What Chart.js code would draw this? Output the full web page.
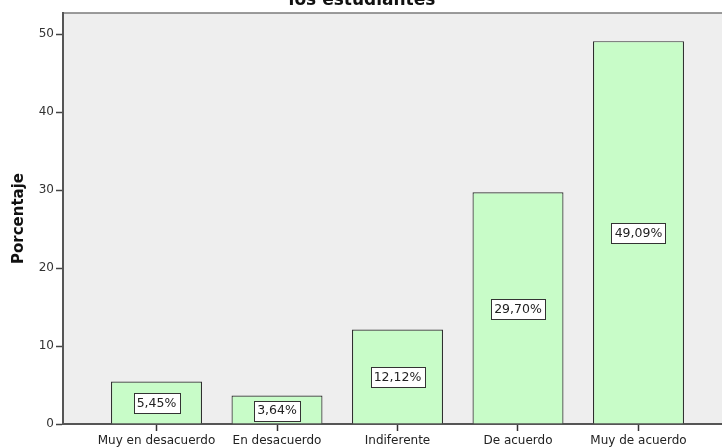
<!DOCTYPE html>
<html>
<head>
<meta charset="utf-8">
<script src="https://cdn.jsdelivr.net/npm/chart.js@4/dist/chart.umd.min.js"></script>
<style>
html,body{margin:0;padding:0;background:#fff;overflow:hidden;}
#wrap{position:relative;width:722px;height:448px;}
</style>
</head>
<body>
<div id="wrap"><canvas id="c" width="722" height="448"></canvas></div>
<script>
const categories = ["Muy en desacuerdo", "En desacuerdo", "Indiferente", "De acuerdo", "Muy de acuerdo"];
const percentages = [5.45, 3.64, 12.12, 29.70, 49.09];
const yTicks = [0, 10, 20, 30, 40, 50];
const titleLine = "los estudiantes";
const yTitle = "Porcentaje";

const FONT = "'DejaVu Sans', sans-serif";

const points = percentages.map((v, i) => ({x: i, y: v}));

const bgPlugin = {
  id: 'bgPlugin',
  beforeDraw(chart) {
    const {ctx, chartArea: a} = chart;
    ctx.save();
    ctx.fillStyle = '#eeeeee';
    ctx.fillRect(a.left, a.top, a.right - a.left, a.bottom - a.top);
    ctx.strokeStyle = '#7a7a7a';
    ctx.lineWidth = 1.5;
    ctx.beginPath();
    ctx.moveTo(a.left, a.top);
    ctx.lineTo(a.right + 2, a.top);
    ctx.stroke();
    // title (second line of a wrapped title; first line outside the frame)
    ctx.fillStyle = '#111';
    ctx.font = "bold 17px " + FONT;
    ctx.textAlign = 'center';
    ctx.textBaseline = 'alphabetic';
    ctx.fillText(titleLine, 362, 5);
    ctx.restore();
  }
};

const labelPlugin = {
  id: 'labelPlugin',
  afterDatasetsDraw(chart) {
    const {ctx} = chart;
    const meta = chart.getDatasetMeta(0);
    ctx.save();
    ctx.font = "12.5px " + FONT;
    ctx.textAlign = 'center';
    ctx.textBaseline = 'middle';
    meta.data.forEach((bar, i) => {
      const txt = percentages[i].toFixed(2).replace('.', ',') + '%';
      const cx = bar.x;
      const cy = (bar.y + bar.base) / 2 + 1;
      const w = Math.round(ctx.measureText(txt).width + 6);
      const h = 20;
      const x0 = Math.round(cx - w / 2) + 0.5;
      const y0 = Math.round(cy - h / 2) + 0.5;
      ctx.fillStyle = '#ffffff';
      ctx.fillRect(x0, y0, w, h);
      ctx.strokeStyle = '#333';
      ctx.lineWidth = 1;
      ctx.strokeRect(x0, y0, w, h);
      ctx.fillStyle = '#222';
      ctx.fillText(txt, cx, cy + 0.5);
    });
    ctx.restore();
  }
};

new Chart(document.getElementById('c'), {
  type: 'bar',
  data: {
    datasets: [{
      data: points,
      backgroundColor: '#c8fcc8',
      borderColor: '#2e2e2e',
      borderWidth: 1.2,
      borderSkipped: 'bottom',
      barPercentage: 0.755,
      categoryPercentage: 1.0
    }]
  },
  options: {
    responsive: false,
    animation: false,
    devicePixelRatio: 1,
    layout: {padding: {top: 13, right: 0, bottom: 0, left: 0}},
    plugins: {legend: {display: false}, tooltip: {enabled: false}, title: {display: false}},
    scales: {
      x: {
        type: 'linear',
        bounds: 'data',
        offset: false,
        min: -0.776,
        max: 4.693,
        afterBuildTicks: (s) => { s.ticks = categories.map((c, i) => ({value: i})); },
        afterFit: (s) => { s.height = 24; },
        ticks: {
          autoSkip: false,
          maxRotation: 0,
          padding: 3,
          color: '#222',
          font: {family: FONT, size: 12},
          callback: (v) => categories[v]
        },
        grid: {offset: false, drawOnChartArea: false, drawTicks: true, tickLength: 7, tickColor: '#333', tickWidth: 1.5},
        border: {display: true, color: '#555', width: 2}
      },
      y: {
        min: 0,
        max: 52.7,
        bounds: 'data',
        afterBuildTicks: (s) => { s.ticks = yTicks.map(v => ({value: v})); },
        afterFit: (s) => { s.width = 63; },
        ticks: {
          padding: 2,
          color: '#333',
          font: {family: FONT, size: 12}
        },
        grid: {drawOnChartArea: false, drawTicks: true, tickLength: 7, tickColor: '#444', tickWidth: 1.5},
        border: {display: true, color: '#555', width: 2},
        title: {
          display: true,
          text: yTitle,
          color: '#111',
          font: {family: FONT, size: 15, weight: 'bold'},
          padding: {top: 10, bottom: 0}
        }
      }
    }
  },
  plugins: [bgPlugin, labelPlugin]
});
</script>
</body>
</html>
